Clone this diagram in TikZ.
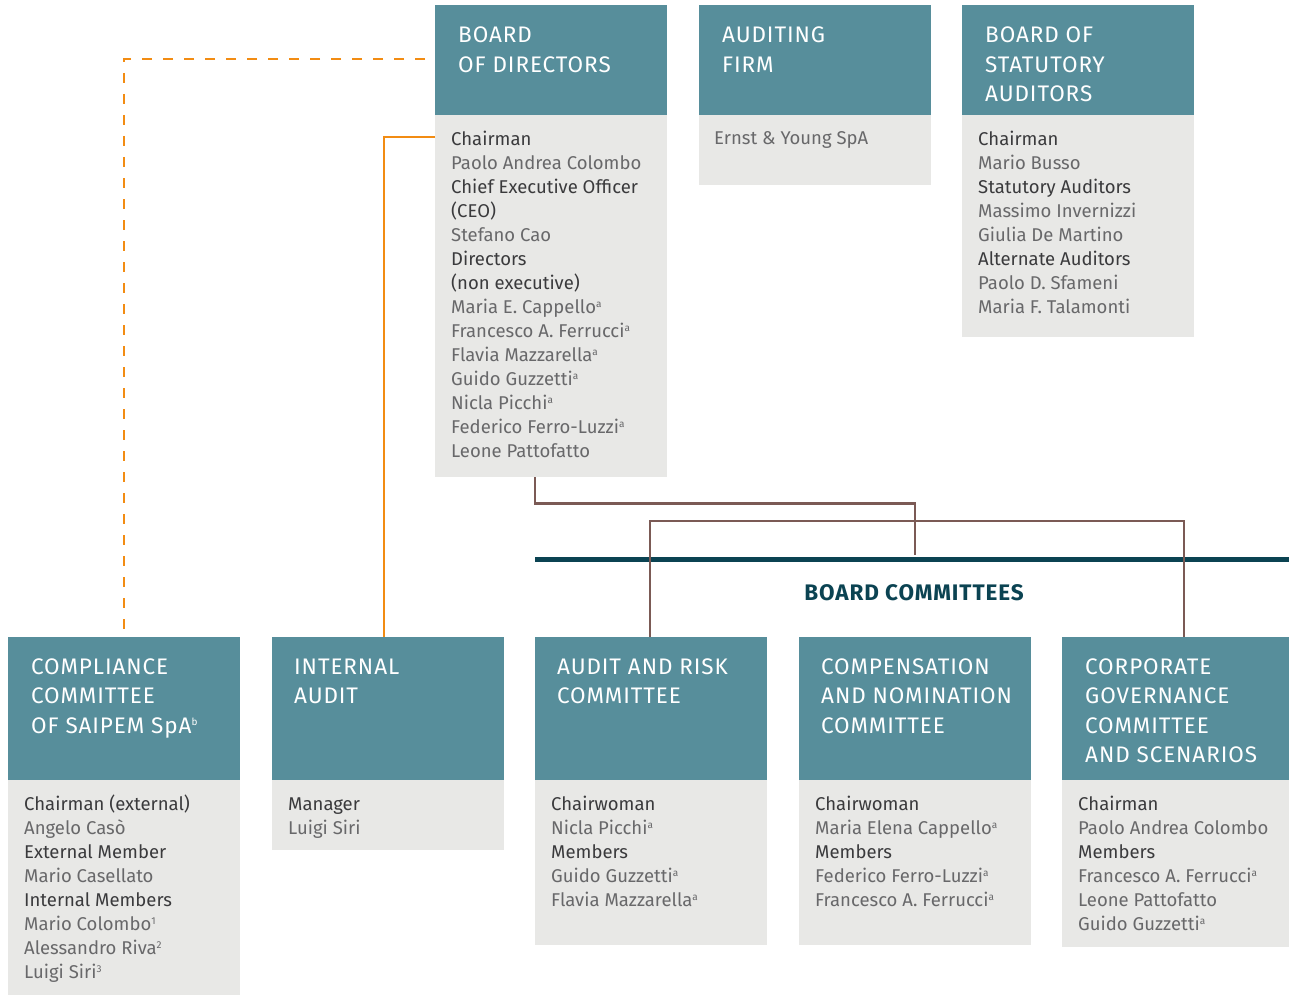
\documentclass[tikz,border=0pt]{standalone}
\usepackage{fontspec}
\setmainfont{Fira Sans}
\newfontfamily\hfont[LetterSpace=4]{Fira Sans}
\usetikzlibrary{calc}
\definecolor{hdrcol}{HTML}{578E9B}
\definecolor{bodycol}{HTML}{E8E8E6}
\definecolor{labcol}{HTML}{3A3A3C}
\definecolor{namecol}{HTML}{68686A}
\definecolor{orgcol}{HTML}{F28C13}
\definecolor{brncol}{HTML}{7B5A55}
\definecolor{dkcol}{HTML}{0B4352}
\newcommand\lab[1]{\textcolor{labcol}{#1}}
\newcommand\supa{\raisebox{0.32em}{\fontsize{10}{10}\selectfont a}}
\newcommand\supx[1]{\raisebox{0.32em}{\fontsize{10}{10}\selectfont #1}}
\tikzset{
  hdrbox/.style={fill=hdrcol, draw=none, inner sep=0pt, anchor=north west, minimum width=232pt},
  bodybox/.style={fill=bodycol, draw=none, inner sep=0pt, anchor=north west, minimum width=232pt},
  hdrtxt/.style={anchor=base west, inner sep=0pt, align=left, text=white,
     font=\hfont\fontsize{22.5}{29.5}\selectfont},
  bodytxt/.style={anchor=base west, inner sep=0pt, align=left, text=namecol,
     font=\fontsize{18.5}{24}\selectfont},
  osolid/.style={draw=orgcol, line width=2.6pt},
  odash/.style={draw=orgcol, line width=2.6pt, dash pattern=on 10pt off 11pt},
  brn/.style={draw=brncol, line width=2.4pt},
  dkline/.style={draw=dkcol, line width=5pt},
}
\begin{document}
\begin{tikzpicture}[x=1pt,y=-1pt]
\useasboundingbox (0,0) rectangle (1289,995);
% (text nodes are anchored at the baseline of their last line)
% ---- top row
\node[hdrbox, minimum height=110pt] (bodh) at (435,5) {};
\node[bodybox, minimum height=362pt] (bodb) at (435,115) {};
\node[hdrtxt] (bodt) at (458,72.5) {BOARD\\OF DIRECTORS};
\node[bodytxt] (bodl) at (451,457) {\lab{Chairman}\\Paolo Andrea Colombo\\\lab{Chief Executive Officer}\\\lab{(CEO)}\\Stefano Cao\\\lab{Directors}\\\lab{(non executive)}\\Maria E. Cappello\supa\\Francesco A. Ferrucci\supa\\Flavia Mazzarella\supa\\Guido Guzzetti\supa\\Nicla Picchi\supa\\Federico Ferro-Luzzi\supa\\Leone Pattofatto};

\node[hdrbox, minimum height=110pt] (afh) at (699,5) {};
\node[bodybox, minimum height=70pt] (afb) at (699,115) {};
\node[hdrtxt] (aft) at (722,72.5) {AUDITING\\FIRM};
\node[bodytxt] (afl) at (714,145) {Ernst \& Young SpA};

\node[hdrbox, minimum height=110pt] (bsh) at (962,5) {};
\node[bodybox, minimum height=222pt] (bsb) at (962,115) {};
\node[hdrtxt] (bst) at (985,102) {BOARD OF\\STATUTORY\\AUDITORS};
\node[bodytxt] (bsl) at (978,313) {\lab{Chairman}\\Mario Busso\\\lab{Statutory Auditors}\\Massimo Invernizzi\\Giulia De Martino\\\lab{Alternate Auditors}\\Paolo D. Sfameni\\Maria F. Talamonti};

% ---- bottom row
\node[hdrbox, minimum height=143pt] (cch) at (8,637) {};
\node[bodybox, minimum height=215pt] (ccb) at (8,780) {};
\node[hdrtxt] (cct) at (31,733) {COMPLIANCE\\COMMITTEE\\OF SAIPEM SpA\supx{b}};
\node[bodytxt] (ccl) at (24,978) {\lab{Chairman (external)}\\Angelo Casò\\\lab{External Member}\\Mario Casellato\\\lab{Internal Members}\\Mario Colombo\supx{1}\\Alessandro Riva\supx{2}\\Luigi Siri\supx{3}};

\node[hdrbox, minimum height=143pt] (iah) at (272,637) {};
\node[bodybox, minimum height=70pt] (iab) at (272,780) {};
\node[hdrtxt] (iat) at (294,703.5) {INTERNAL\\AUDIT};
\node[bodytxt] (ial) at (288,834) {\lab{Manager}\\Luigi Siri};

\node[hdrbox, minimum height=143pt] (arh) at (535,637) {};
\node[bodybox, minimum height=165pt] (arb) at (535,780) {};
\node[hdrtxt] (art) at (557,703.5) {AUDIT AND RISK\\COMMITTEE};
\node[bodytxt] (arl) at (551,906) {\lab{Chairwoman}\\Nicla Picchi\supa\\\lab{Members}\\Guido Guzzetti\supa\\Flavia Mazzarella\supa};

\node[hdrbox, minimum height=143pt] (cnh) at (799,637) {};
\node[bodybox, minimum height=165pt] (cnb) at (799,780) {};
\node[hdrtxt] (cnt) at (821,733) {COMPENSATION\\AND NOMINATION\\COMMITTEE};
\node[bodytxt] (cnl) at (815,906) {\lab{Chairwoman}\\Maria Elena Cappello\supa\\\lab{Members}\\Federico Ferro-Luzzi\supa\\Francesco A. Ferrucci\supa};

\node[hdrbox, minimum height=143pt, minimum width=227pt] (cgh) at (1062,637) {};
\node[bodybox, minimum height=167pt, minimum width=227pt] (cgb) at (1062,780) {};
\node[hdrtxt] (cgt) at (1085,762.5) {CORPORATE\\GOVERNANCE\\COMMITTEE\\AND SCENARIOS};
\node[bodytxt] (cgl) at (1078,930) {\lab{Chairman}\\Paolo Andrea Colombo\\\lab{Members}\\Francesco A. Ferrucci\supa\\Leone Pattofatto\\Guido Guzzetti\supa};

% ---- board committees band
\coordinate (dkA) at (535,559);
\coordinate (dkB) at (1289,559);
\draw[dkline] (dkA) -- (dkB);
\node[anchor=base, inner sep=0pt, text=dkcol, font=\hfont\bfseries\fontsize{22.5}{24}\selectfont] (bc) at (914,600) {BOARD COMMITTEES};

% ---- connectors
\coordinate (dashA) at (425,59);
\coordinate (dashB) at (124,632);
\draw[odash] (dashA) -| (dashB);
\draw[osolid] ($(bodb.north west)+(0,22)$) -| ($(iah.north west)+(112,0)$);
\coordinate (bcend) at (915,555);
\draw[brn] ($(bodb.south west)+(100,0)$) -- ++(0,26) -| (bcend);
\draw[brn] ($(arh.north west)+(115,0)$) -- ++(0,-116) -| ($(cgh.north west)+(122,0)$);
\end{tikzpicture}
\end{document}
